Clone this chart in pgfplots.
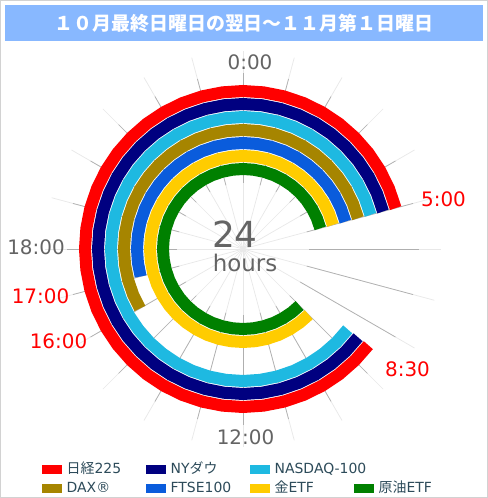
\documentclass[border=0pt]{standalone}
\usepackage{fontspec}
\setmainfont{DejaVu Sans}
\newfontfamily\cjk{Noto Sans CJK JP}
\usepackage{pgfplots}
\usepackage{pgfplotstable}
\pgfplotsset{compat=1.18}

\definecolor{nkred}{RGB}{255,0,0}
\definecolor{nydow}{RGB}{0,0,128}
\definecolor{nasdaq}{RGB}{30,185,225}
\definecolor{dax}{RGB}{166,133,0}
\definecolor{ftse}{RGB}{10,92,220}
\definecolor{gold}{RGB}{255,204,0}
\definecolor{oil}{RGB}{0,128,0}
\definecolor{labgray}{RGB}{100,100,100}
\definecolor{legtext}{RGB}{45,75,90}
\definecolor{titleblue}{RGB}{136,184,255}
\definecolor{gridlight}{RGB}{232,232,232}
\definecolor{griddark}{RGB}{175,175,175}
\definecolor{bordergray}{RGB}{210,210,210}

% clock hour (0-24, past 24 = next day) -> ring radius where the market is open, nan where closed
\pgfplotstableread{
h    nk  ny  nq  dax ftse gold oil
8.5  158 145 132 nan nan  nan  nan
9    158 145 132 nan nan  93   80
9.5  158 145 132 nan nan  93   80
10   158 145 132 nan nan  93   80
10.5 158 145 132 nan nan  93   80
11   158 145 132 nan nan  93   80
11.5 158 145 132 nan nan  93   80
12   158 145 132 nan nan  93   80
12.5 158 145 132 nan nan  93   80
13   158 145 132 nan nan  93   80
13.5 158 145 132 nan nan  93   80
14   158 145 132 nan nan  93   80
14.5 158 145 132 nan nan  93   80
15   158 145 132 nan nan  93   80
15.5 158 145 132 nan nan  93   80
16   158 145 132 119 nan  93   80
16.5 158 145 132 119 nan  93   80
17   158 145 132 119 106  93   80
17.5 158 145 132 119 106  93   80
18   158 145 132 119 106  93   80
18.5 158 145 132 119 106  93   80
19   158 145 132 119 106  93   80
19.5 158 145 132 119 106  93   80
20   158 145 132 119 106  93   80
20.5 158 145 132 119 106  93   80
21   158 145 132 119 106  93   80
21.5 158 145 132 119 106  93   80
22   158 145 132 119 106  93   80
22.5 158 145 132 119 106  93   80
23   158 145 132 119 106  93   80
23.5 158 145 132 119 106  93   80
24   158 145 132 119 106  93   80
24.5 158 145 132 119 106  93   80
25   158 145 132 119 106  93   80
25.5 158 145 132 119 106  93   80
26   158 145 132 119 106  93   80
26.5 158 145 132 119 106  93   80
27   158 145 132 119 106  93   80
27.5 158 145 132 119 106  93   80
28   158 145 132 119 106  93   80
28.5 158 145 132 119 106  93   80
29   158 145 132 119 106  93   80
}\hrs

\begin{document}
\begin{tikzpicture}[x=1bp,y=1bp]
\path[use as bounding box] (-243,-249) rectangle (245,249);
\fill[white] (-243,-249) rectangle (245,249);

\begin{axis}[
    anchor=origin, at={(0,0)},
    x=1bp, y=1bp,
    xmin=-243, xmax=245, ymin=-249, ymax=249,
    hide axis, clip=false,
    data cs=polar,
    unbounded coords=jump,
    ring/.style={color=#1, line width=12bp},
    legend columns=4,
    legend image code/.code={\fill[#1, draw=none, line width=0pt] (0bp,-4.5bp) rectangle (20bp,4.5bp);},
    legend style={draw=none, fill=none, inner sep=0pt,
        at={(0.086,0.0745)}, anchor=north west,
        column sep=0pt, row sep=2bp,
        nodes={font=\fontsize{14}{16}\selectfont, text=legtext,
            text width=75bp, inner xsep=4.5bp, inner ysep=2bp,
            text height=10bp, text depth=3bp, anchor=west}},
]
% hour spokes
\pgfplotsinvokeforeach{0,15,...,345}{
    \addplot[gridlight, line width=0.7bp, forget plot] coordinates {(#1,0) (#1,198)};
    \addplot[griddark, line width=0.7bp, forget plot] coordinates {(#1,66) (#1,176)};
}

\addplot[ring=nkred]  table[x expr={90-15*\thisrow{h}}, y=nk]   {\hrs};
\addlegendentry{{\cjk 日経}225}
\addplot[ring=nydow]  table[x expr={90-15*\thisrow{h}}, y=ny]   {\hrs};
\addlegendentry{NY{\cjk ダウ}}
\addplot[ring=nasdaq] table[x expr={90-15*\thisrow{h}}, y=nq]   {\hrs};
\addlegendentry{\rlap{NASDAQ-100}}
\addlegendimage{empty legend}
\addlegendentry{}
\addplot[ring=dax]    table[x expr={90-15*\thisrow{h}}, y=dax]  {\hrs};
\addlegendentry{DAX®}
\addplot[ring=ftse]   table[x expr={90-15*\thisrow{h}}, y=ftse] {\hrs};
\addlegendentry{FTSE100}
\addplot[ring=gold]   table[x expr={90-15*\thisrow{h}}, y=gold] {\hrs};
\addlegendentry{{\cjk 金}ETF}
\addplot[ring=oil]    table[x expr={90-15*\thisrow{h}}, y=oil]  {\hrs};
\addlegendentry{{\cjk 原油}ETF}

% clock labels
\begin{scope}[every node/.style={font=\fontsize{20}{24}\selectfont, anchor=base, inner sep=0pt}]
\node[text=labgray] at (axis cs:7,179.7) {0:00};
\node[text=nkred]   at (axis cs:200.5,42.3) {5:00};
\node[text=nkred]   at (axis cs:164.5,-127.7) {8:30};
\node[text=labgray] at (axis cs:2.5,-195) {12:00};
\node[text=nkred]   at (axis cs:-184.5,-99.3) {16:00};
\node[text=nkred]   at (axis cs:-202.5,-54.3) {17:00};
\node[text=labgray] at (axis cs:-207,-6) {18:00};
\end{scope}
\node[text=labgray, font=\fontsize{36}{40}\selectfont, anchor=base, inner sep=0pt] at (axis cs:-8,1) {24};
\node[text=labgray, font=\fontsize{23}{26}\selectfont, anchor=base, inner sep=0pt] at (axis cs:2,-23) {hours};
\end{axis}

\fill[titleblue] (-238,208.3) rectangle (240,244);
\node[text=white, font=\cjk\bfseries\fontsize{19}{22}\selectfont, anchor=base, inner sep=0pt]
    at (1,218.7) {１０月最終日曜日の翌日～１１月第１日曜日};
\draw[bordergray, line width=1bp] (-242.5,-248.5) rectangle (244.5,248.5);
\end{tikzpicture}
\end{document}
